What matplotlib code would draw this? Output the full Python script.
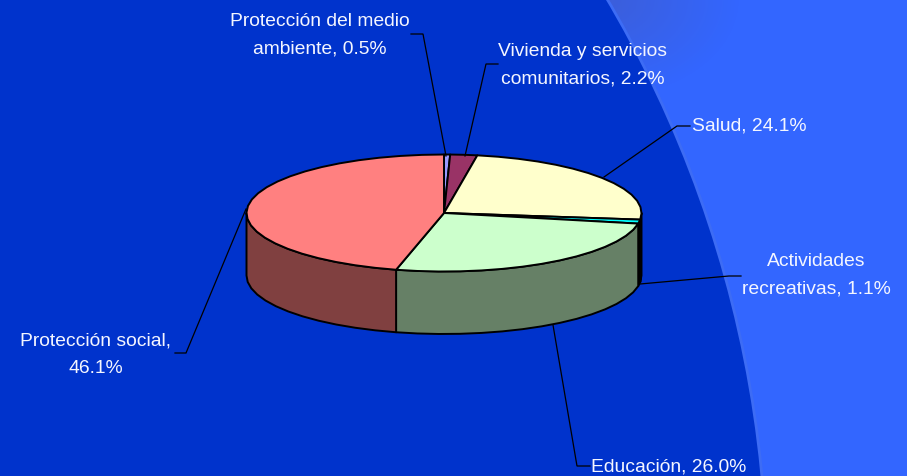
import numpy as np
import matplotlib
matplotlib.use("Agg")
import matplotlib.pyplot as plt
from matplotlib.patches import Circle, Polygon

plt.rcParams['font.family'] = ['Liberation Sans', 'DejaVu Sans']

# Data
categories = ["Protección del medio\nambiente", "Vivienda y servicios\ncomunitarios", "Salud",
              "Actividades\nrecreativas", "Educación", "Protección social"]
values = [0.5, 2.2, 24.1, 1.1, 26.0, 46.1]
top_colors = ["#9999FF", "#993366", "#FFFFCC", "#00FFFF", "#CCFFCC", "#FF8080"]
side_colors = ["#4D4D80", "#4D1A33", "#808066", "#000000", "#668066", "#804040"]

# Layout (pixel space)
W, H = 907, 477
CX, CY, RX, RY, DEPTH = 444.0, 214.0, 197.5, 58.5, 62.5
BG_DARK, BG_LIGHT, BG_RIM, TXT = "#0033CC", "#3366FF", "#3D6CF5", "#F4F6FF"
FS = 13.9

label_layout = [
    dict(x=320, y=35, ha="center", line=[(446, 157), (423, 35), (411, 35)]),
    dict(x=583, y=65, ha="center", line=[(465, 157), (486, 65), (498, 65)]),
    dict(x=692, y=126, ha="left", line=[(604, 178), (677, 127), (690, 127)]),
    dict(x=816, y=275, ha="center", line=[(640, 285), (729, 277), (741, 277)]),
    dict(x=591, y=467, ha="left", line=[(553, 326), (577, 467), (590, 467)]),
    dict(x=96, y=355, ha="center", line=[(246, 210), (186, 354), (175, 354)]),
]
label_texts = ["{}, {:.1f}%".format(c, v) for c, v in zip(categories, values)]
label_texts[5] = "Protección social,\n46.1%"

fig = plt.figure(figsize=(W / 100, H / 100), dpi=100)
ax = fig.add_axes([0, 0, 1, 1])
ax.set_xlim(0, W)
ax.set_ylim(H, 0)
ax.axis("off")
fig.patch.set_facecolor(BG_DARK)

# Background ring
ax.add_patch(Polygon([(0, 0), (W, 0), (W, H), (0, H)], fc=BG_LIGHT, ec="none", zorder=0))
gx, gy = np.meshgrid(np.linspace(0, 1, 120), np.linspace(0, 1, 90))
alpha = np.clip(1 - np.hypot(gx, gy * 0.9), 0, 1) * 0.75
shade = np.dstack([np.full(gx.shape, 0.25), np.full(gx.shape, 0.36), np.full(gx.shape, 0.80), alpha])
ax.imshow(shade, extent=(600, 740, 90, 0), aspect="auto", zorder=0.5)
ax.set_xlim(0, W)
ax.set_ylim(H, 0)
ax.add_patch(Circle((-383, 585), 1150, fc=BG_DARK, ec=BG_RIM, lw=2.0, zorder=1))


def ell(theta):
    return CX + RX * np.sin(theta), CY - RY * np.cos(theta)


STEP = np.radians(6.5)
def arc(a, b):
    n = max(int(np.ceil((b - a) / STEP)), 1)
    return np.linspace(a, b, n + 1)


edges = np.radians(np.cumsum([0] + values) * 3.6)

# Side walls
for i in range(len(values)):
    a, b = max(edges[i], np.pi / 2), min(edges[i + 1], 3 * np.pi / 2)
    if b <= a:
        continue
    x, y = ell(arc(a, b))
    pts = list(zip(x, y)) + list(zip(x[::-1], y[::-1] + DEPTH))
    ax.add_patch(Polygon(pts, fc=side_colors[i], ec="black", lw=1.4, joinstyle="round", zorder=2))

# Top faces
for i in range(len(values)):
    x, y = ell(arc(edges[i], edges[i + 1]))
    pts = [(CX, CY)] + list(zip(x, y))
    ax.add_patch(Polygon(pts, fc=top_colors[i], ec="black", lw=1.4, joinstyle="round", zorder=3))

# Leader lines and labels
for txt, lay in zip(label_texts, label_layout):
    lx, ly = zip(*lay["line"])
    ax.plot(lx, ly, color="black", lw=0.9, zorder=4, solid_joinstyle="miter")
    ax.text(lay["x"], lay["y"], txt, color=TXT, fontsize=FS, ha=lay["ha"], va="center",
            multialignment="center", linespacing=1.78, zorder=5)

fig.savefig("out.png", dpi=100, facecolor=fig.get_facecolor())
